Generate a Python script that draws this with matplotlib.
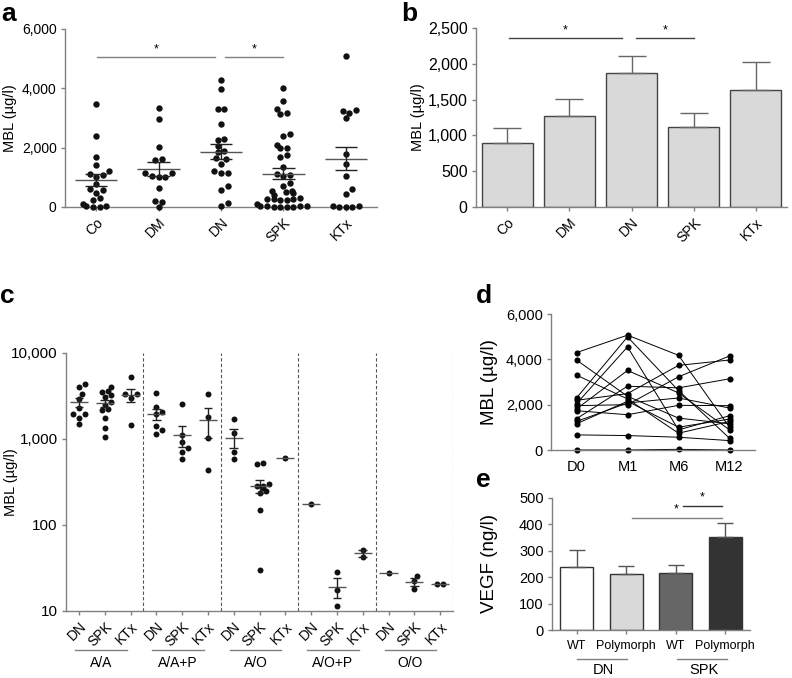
import matplotlib.pyplot as plt
import matplotlib.transforms as mtransforms
import numpy as np
from matplotlib.ticker import FuncFormatter, FixedLocator, NullLocator

plt.rcParams['font.family'] = ['Liberation Sans', 'DejaVu Sans']
plt.rcParams['font.size'] = 9

W, H = 792, 678
AXIS = '#808080'
DOT = '#111111'

# --- panels a/b : MBL per group
groups = ['Co', 'DM', 'DN', 'SPK', 'KTx']
mbl_co = [3470, 2390, 1670, 1410, 1200, 1100, 1090, 1000, 780, 600, 580, 480,
          290, 230, 100, 50, 20, 0, 0]
mbl_dm = [3350, 2950, 2010, 1620, 1600, 1150, 1130, 1050, 1000, 1000, 650, 200,
          180, 0]
mbl_dn = [4280, 3970, 3320, 3290, 2800, 2300, 2270, 2050, 1900, 1870, 1650, 1620,
          1450, 1200, 1150, 1150, 700, 580, 150, 20]
mbl_spk = [4020, 3570, 3290, 3160, 3150, 2470, 2400, 2100, 2000, 1980, 1760, 1700,
           1350, 1100, 1080, 1050, 800, 700, 550, 540, 520, 480, 420, 290, 280,
           270, 260, 250, 240, 100, 50, 40, 30, 20, 10, 10, 0, 0]
mbl_ktx = [5100, 3260, 3230, 3180, 2990, 1780, 1450, 1040, 600, 440, 30, 20, 10,
           10, 0]
mbl_mean = [900, 1275, 1867, 1122, 1634]
mbl_sem = [200, 238, 246, 191, 396]

# --- panel c : MBL by genotype, each list = [DN, SPK, KTx]
genotypes = ['A/A', 'A/A+P', 'A/O', 'A/O+P', 'O/O']
cohorts = ['DN', 'SPK', 'KTx']
geno_aa = [[4330, 3980, 3310, 2880, 2290, 1960, 1940, 1750, 1480],
           [4030, 3600, 3450, 3250, 3050, 2650, 2500, 2200, 2150, 1730, 1340, 1060],
           [5170, 3290, 3290, 3000, 1445]]
geno_aap = [[3370, 2320, 2065, 1928, 1410, 1257, 1137],
            [2510, 1106, 925, 775, 709, 578],
            [3310, 1806, 1030, 434]]
geno_ao = [[1683, 1167, 697, 578],
           [525, 509, 300, 285, 280, 270, 250, 233, 150, 30],
           [593]]
geno_aop = [[175], [28.6, 17.5, 11.5], [51, 42.4]]
geno_oo = [[27.4], [25.7, 22.3, 17.9], [20.6, 20.6]]

# --- panel d : follow-up per patient
timepoints = ['D0', 'M1', 'M6', 'M12']
mbl_d0 = [4296, 3970, 3304, 2296, 2193, 2044, 1956, 1807, 1733, 1378, 1259, 1156, 667, 0]
mbl_m1 = [5067, 2370, 2252, 4990, 2489, 4548, 2000, 3511, 1556, 2815, 2074, 2148, 637, 0]
mbl_m6 = [4178, 1407, 741, 2622, 3733, 889, 3230, 2518, 1970, 2741, 2296, 1007, 563, 30]
mbl_m12 = [1007, 1156, 1259, 519, 3970, 1511, 4148, 889, 1956, 3141, 1852, 1363, 415, 0]

# --- panel e : VEGF
vegf_labels = ['WT', 'Polymorph', 'WT', 'Polymorph']
vegf_mean = [239, 210, 214, 352]
vegf_sem = [63, 32, 32, 51]
vegf_colors = ['white', '#d9d9d9', '#666666', '#333333']

fig = plt.figure(figsize=(W / 100, H / 100), dpi=100)


def add_ax(x0, y0, x1, y1):
    return fig.add_axes([x0 / W, 1 - y1 / H, (x1 - x0) / W, (y1 - y0) / H])


def style(ax, size=10):
    for s in ['top', 'right']:
        ax.spines[s].set_visible(False)
    for s in ['left', 'bottom']:
        ax.spines[s].set_color(AXIS)
        ax.spines[s].set_linewidth(1)
    ax.tick_params(colors=AXIS, labelcolor='black', length=3, width=1,
                   direction='out', labelsize=size, pad=3)
    ax.yaxis.set_major_formatter(FuncFormatter(lambda v, p: f'{v:,.0f}'))


def swarm_x(ax, pos, vals, d, log=False):
    """x positions so that dots of diameter d (px) don't overlap"""
    vals = np.asarray(vals, float)
    bb = ax.get_position()
    x0, x1 = ax.get_xlim()
    y0, y1 = ax.get_ylim()
    xscale = bb.width * W / (x1 - x0)
    if log:
        yv, ylo, yhi = np.log10(vals), np.log10(y0), np.log10(y1)
    else:
        yv, ylo, yhi = vals, y0, y1
    ypx = (yv - ylo) / (yhi - ylo) * bb.height * H
    cands = [0.0]
    for k in range(1, 25):
        cands += [k * d / 2, -k * d / 2]
    order = np.argsort(ypx)
    off = np.zeros(len(vals))
    done = []
    for i in order:
        for c in cands:
            if all(np.hypot(c - off[j], ypx[i] - ypx[j]) >= 0.92 * d for j in done):
                off[i] = c
                break
        done.append(i)
    rows = []
    for i in order:
        if rows and abs(ypx[i] - ypx[rows[-1][0]]) < 0.3 * d:
            rows[-1].append(i)
        else:
            rows.append([i])
    for r in rows:
        if len(r) > 1:
            off[r] -= off[r].mean()
    return pos + off / xscale


def mean_sem(ax, pos, m, s, wm, wc):
    ax.hlines(m, pos - wm / 2, pos + wm / 2, color='#555555', lw=1, zorder=4)
    if s > 0:
        ax.vlines(pos, m - s, m + s, color='#222222', lw=1, zorder=4)
        ax.hlines([m - s, m + s], pos - wc / 2, pos + wc / 2, color='#222222',
                  lw=1, zorder=4)


def rotated_ticks(ax, labels):
    ax.set_xticks(range(len(labels)))
    ax.set_xticklabels(labels, rotation=45, ha='right', rotation_mode='anchor')


# ---------------- a
ax = add_ax(65, 29, 377, 207)
style(ax, 10)
ax.set_xlim(-0.5, 4.5)
ax.set_ylim(0, 6000)
ax.set_yticks([0, 2000, 4000, 6000])
rotated_ticks(ax, groups)
for i, vals in enumerate([mbl_co, mbl_dm, mbl_dn, mbl_spk, mbl_ktx]):
    xs = swarm_x(ax, i, vals, 6.6)
    ax.plot(xs, vals, 'o', color=DOT, ms=4.6, mew=0, clip_on=False, zorder=3)
    mean_sem(ax, i, mbl_mean[i], mbl_sem[i], 0.68, 0.36)
ax.plot([0.02, 1.9], [5050, 5050], color=AXIS, lw=1)
ax.plot([2.06, 3.0], [5050, 5050], color=AXIS, lw=1)
ax.text(0.96, 5100, '*', ha='center', va='bottom', fontsize=9)
ax.text(2.53, 5100, '*', ha='center', va='bottom', fontsize=9)
ax.set_ylabel('MBL (µg/l)', fontsize=10.5)
ax.yaxis.set_label_coords(-0.155, 0.5)

# ---------------- b
ax = add_ax(476, 28, 787, 207)
style(ax, 10)
ax.tick_params(axis='y', labelsize=11.5)
ax.set_xlim(-0.5, 4.5)
ax.set_ylim(0, 2500)
ax.set_yticks(np.arange(0, 2501, 500))
rotated_ticks(ax, groups)
ax.bar(range(5), mbl_mean, width=0.82, color='#d9d9d9', edgecolor='#444444', lw=1)
ax.errorbar(range(5), mbl_mean, yerr=[np.zeros(5), mbl_sem], fmt='none',
            ecolor='#666666', elinewidth=1, capsize=10, capthick=1)
ax.plot([0.03, 1.84], [2360, 2360], color='#444444', lw=1)
ax.plot([2.08, 3.0], [2360, 2360], color='#444444', lw=1)
ax.text(0.93, 2385, '*', ha='center', va='bottom', fontsize=9)
ax.text(2.54, 2385, '*', ha='center', va='bottom', fontsize=9)
ax.set_ylabel('MBL (µg/l)', fontsize=10.5)
ax.yaxis.set_label_coords(-0.163, 0.5)

# ---------------- c
ax = add_ax(66, 352.7, 453, 611)
style(ax, 10)
ax.tick_params(axis='y', labelsize=11)
ax.set_yscale('log')
ax.set_xlim(-0.5, 14.5)
ax.set_ylim(10, 10000)
ax.yaxis.set_major_locator(FixedLocator([10, 100, 1000, 10000]))
ax.yaxis.set_minor_locator(NullLocator())
ax.yaxis.set_major_formatter(FuncFormatter(lambda v, p: f'{v:,.0f}'))
rotated_ticks(ax, cohorts * len(genotypes))
trans = mtransforms.blended_transform_factory(ax.transData, ax.transAxes)
for g, geno in enumerate([geno_aa, geno_aap, geno_ao, geno_aop, geno_oo]):
    for k, vals in enumerate(geno):
        pos = g * 3 + k
        xs = swarm_x(ax, pos, vals, 6.0, log=True)
        ax.plot(xs, vals, 'o', color=DOT, ms=4.3, mew=0, zorder=3)
        v = np.asarray(vals, float)
        sem = v.std(ddof=1) / np.sqrt(len(v)) if len(v) > 1 else 0
        mean_sem(ax, pos, v.mean(), sem, 0.7, 0.34)
    ax.axvline(g * 3 + 2.5, color='#555555', lw=0.8, ls=(0, (3, 2)))
    ax.plot([g * 3 - 0.15, g * 3 + 1.85], [-0.151, -0.151], color=AXIS, lw=1,
            transform=trans, clip_on=False)
    ax.text(g * 3 + 0.85, -0.2, genotypes[g], transform=trans, ha='center',
            va='center', fontsize=10)
ax.set_ylabel('MBL (µg/l)', fontsize=10.5)
ax.yaxis.set_label_coords(-0.125, 0.5)

# ---------------- d
ax = add_ax(551, 314, 755, 450)
style(ax, 10.5)
ax.set_xlim(-0.5, 3.5)
ax.set_ylim(0, 6000)
ax.set_yticks([0, 2000, 4000, 6000])
ax.set_xticks(range(4))
ax.set_xticklabels(timepoints)
ax.tick_params(axis='x', length=0, pad=7)
for p in range(len(mbl_d0)):
    ax.plot(range(4), [mbl_d0[p], mbl_m1[p], mbl_m6[p], mbl_m12[p]], '-o',
            color='black', lw=0.7, ms=4.4, mew=0, clip_on=False)
ax.set_ylabel('MBL (µg/l)', fontsize=13.5)
ax.yaxis.set_label_coords(-0.26, 0.5)

# ---------------- e
ax = add_ax(552, 497.7, 750, 630)
style(ax, 10.5)
ax.tick_params(axis='x', labelsize=9, pad=4)
ax.set_xlim(-0.5, 3.5)
ax.set_ylim(0, 500)
ax.set_yticks(np.arange(0, 501, 100))
ax.set_xticks(range(4))
ax.set_xticklabels(vegf_labels)
ax.bar(range(4), vegf_mean, width=0.67, color=vegf_colors, edgecolor='#333333', lw=1)
ax.errorbar(range(4), vegf_mean, yerr=[np.zeros(4), vegf_sem], fmt='none',
            ecolor='#555555', elinewidth=1, capsize=6, capthick=1)
ax.plot([2.15, 2.93], [470, 470], color='#333333', lw=1)
ax.plot([1.12, 2.93], [424, 424], color=AXIS, lw=1)
ax.text(2.54, 478, '*', ha='center', va='bottom', fontsize=9)
ax.text(2.0, 432, '*', ha='center', va='bottom', fontsize=9)
trans = mtransforms.blended_transform_factory(ax.transData, ax.transAxes)
for a, b, lab in [(0, 1.02, 'DN'), (2.03, 3.03, 'SPK')]:
    ax.plot([a, b], [-0.219, -0.219], color=AXIS, lw=1, transform=trans, clip_on=False)
    ax.text((a + b) / 2 + 0.03, -0.30, lab, transform=trans, ha='center',
            va='center', fontsize=10.5)
ax.set_ylabel('VEGF (ng/l)', fontsize=13.5)
ax.yaxis.set_label_coords(-0.272, 0.5)

# panel letters
for lab, x, y in [('a', 1, 21), ('b', 401, 21), ('c', 0, 303), ('d', 476, 303),
                  ('e', 476, 487)]:
    fig.text(x / W, 1 - y / H, lab, fontsize=19, fontweight='bold', va='baseline')

fig.savefig('out.png', dpi=100)
